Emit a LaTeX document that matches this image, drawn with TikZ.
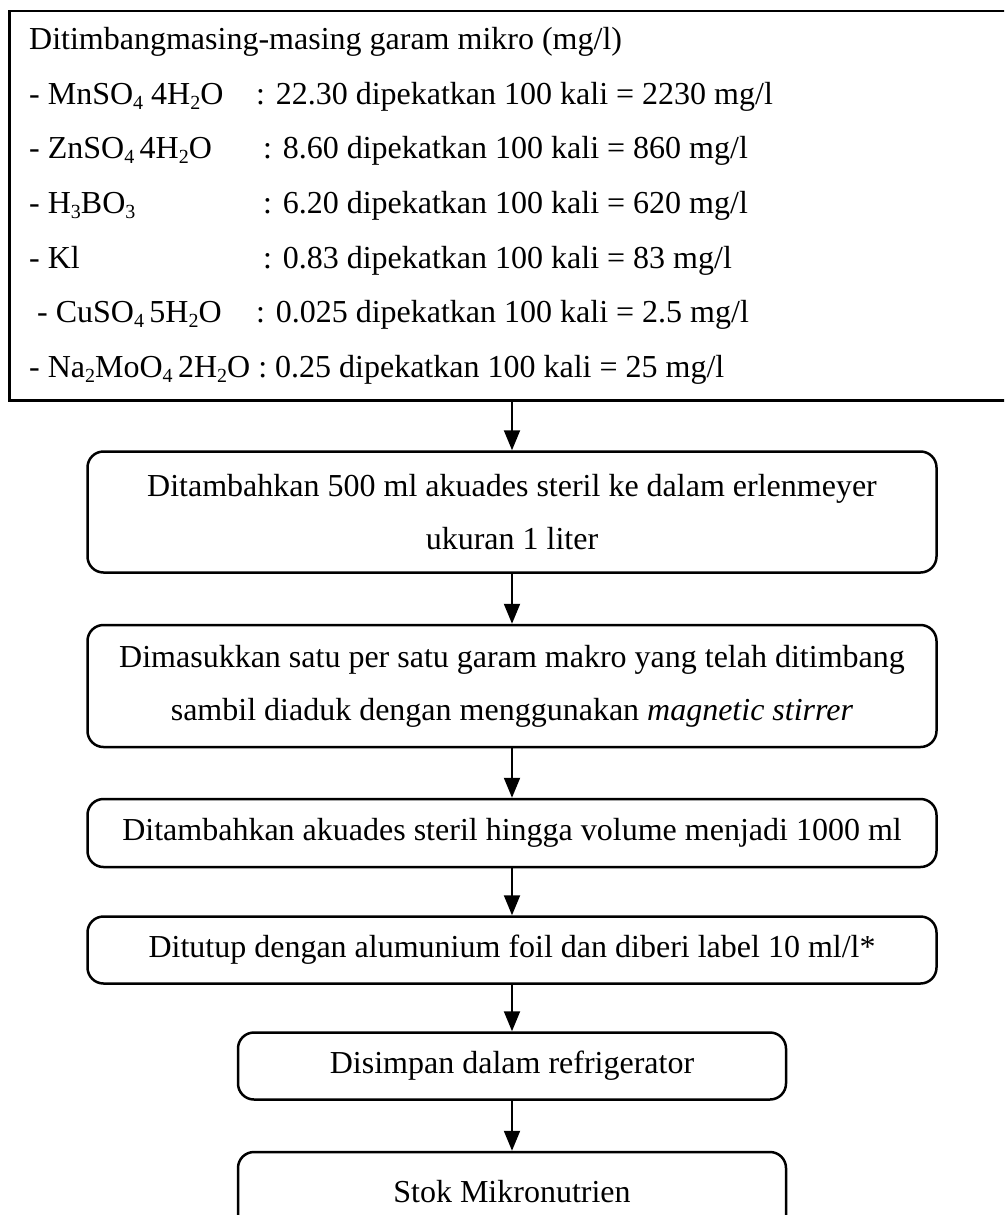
\documentclass[tikz,border=0pt]{standalone}
\usepackage{fontspec}
\setmainfont{Liberation Serif}
\usetikzlibrary{arrows.meta}
\newcommand\mysb[1]{\raisebox{-5pt}{\fontsize{20}{20}\selectfont #1}}
\begin{document}
\begin{tikzpicture}[x=1pt,y=-1pt,
  every node/.style={font=\fontsize{32}{53}\selectfont, inner sep=0pt},
  lbl/.style={anchor=base west},
  flow/.style={draw, line width=2.5pt, rounded corners=16pt, align=center},
  wide/.style={flow, minimum width=849pt},
  narrow/.style={flow, minimum width=548pt},
  arr/.style={line width=2pt, -{Triangle[length=20pt,width=16pt]}}]
\useasboundingbox (0,0) rectangle (1004,1215);
\clip (0,0) rectangle (1004,1215);
\fill[white] (0,0) rectangle (1004,1215);
% top box
\node[draw, line width=2.5pt, anchor=north west, minimum width=1010pt, minimum height=389pt] (top) at (8,10) {};
\node[lbl] (t1) at (29,50) {Ditimbangmasing-masing garam mikro (mg/l)};
\node[lbl] (a2) at (29,104) {- MnSO\mysb{4} 4H\mysb{2}O};
\node[lbl] (b2) at (256,104) {: 22.30 dipekatkan 100 kali = 2230 mg/l};
\node[lbl] (a3) at (29,158) {- ZnSO\mysb{4}\,4H\mysb{2}O};
\node[lbl] (b3) at (263,158) {: 8.60 dipekatkan 100 kali = 860 mg/l};
\node[lbl] (a4) at (29,213) {- H\mysb{3}BO\mysb{3}};
\node[lbl] (b4) at (263,213) {: 6.20 dipekatkan 100 kali = 620 mg/l};
\node[lbl] (a5) at (29,268) {- Kl};
\node[lbl] (b5) at (263,268) {: 0.83 dipekatkan 100 kali = 83 mg/l};
\node[lbl] (a6) at (37,322) {- CuSO\mysb{4}\,5H\mysb{2}O};
\node[lbl] (b6) at (256,322) {: 0.025 dipekatkan 100 kali = 2.5 mg/l};
\node[lbl] (a7) at (29,377) {- Na\mysb{2}MoO\mysb{4}\,2H\mysb{2}O : 0.25 dipekatkan 100 kali = 25 mg/l};
% flow boxes
\node[wide, minimum height=121pt] (s1) at (512,512) {Ditambahkan 500 ml akuades steril ke dalam erlenmeyer\\ukuran 1 liter};
\node[wide, minimum height=122pt] (s2) at (512,686) {Dimasukkan satu per satu garam makro yang telah ditimbang\\sambil diaduk dengan menggunakan \textit{magnetic stirrer}};
\node[wide, minimum height=68pt] (s3) at (512,833) {Ditambahkan akuades steril hingga volume menjadi 1000 ml};
\node[wide, minimum height=67pt] (s4) at (512,950) {Ditutup dengan alumunium foil dan diberi label 10 ml/l*};
\node[narrow, minimum height=67pt] (s5) at (512,1066) {Disimpan dalam refrigerator};
\node[narrow, minimum height=80pt] (s6) at (512,1192) {Stok Mikronutrien};
% arrows
\draw[arr] (top.south -| s1.north) -- (s1.north);
\draw[arr] (s1.south) -- (s2.north);
\draw[arr] (s2.south) -- (s3.north);
\draw[arr] (s3.south) -- (s4.north);
\draw[arr] (s4.south) -- (s5.north);
\draw[arr] (s5.south) -- (s6.north);
\end{tikzpicture}
\end{document}
